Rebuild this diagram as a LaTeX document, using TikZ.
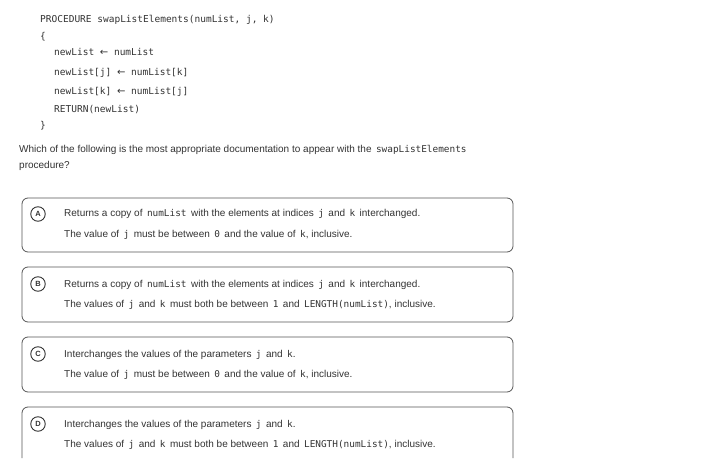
\documentclass[tikz,border=0pt]{standalone}
\usepackage{fontspec}
\setmainfont{Liberation Sans}
\newfontfamily\codefont{DejaVu Sans Mono}
\newfontfamily\arrowfont{DejaVu Sans}
\newcommand{\cd}[1]{\,{\codefont\fontsize{9.4}{11}\selectfont #1}\,}
\newcommand{\cdp}[1]{\,{\codefont\fontsize{9.4}{11}\selectfont #1}}
\newcommand{\la}{{\arrowfont\fontsize{10}{11}\selectfont ←}}
\definecolor{txt}{HTML}{333333}
\definecolor{boxline}{HTML}{555555}
\begin{document}
\begin{tikzpicture}[x=1pt,y=-1pt,
  code/.style={anchor=base west,inner sep=0pt,text=txt,font=\codefont\fontsize{9.5}{11}\selectfont},
  body/.style={anchor=base west,inner sep=0pt,text=txt,font=\fontsize{10}{12}\selectfont},
  optbox/.style={draw=boxline,line width=0.8pt,rounded corners=6pt},
  letter/.style={circle,draw=txt,line width=0.9pt,minimum size=14.5pt,inner sep=0pt,text=txt,font=\bfseries\fontsize{7.5}{8}\selectfont}]
\useasboundingbox (0,0) rectangle (719,470);
\fill[white] (0,0) rectangle (719,470);
% code
\node[code] (c1) at (40,23) {PROCEDURE swapListElements(numList, j, k)};
\node[code] (c2) at (40,40) {\{};
\node[code] (c3) at (54,56) {newList \la{} numList};
\node[code] (c4) at (54,76) {newList[j] \la{} numList[k]};
\node[code] (c5) at (54,95) {newList[k] \la{} numList[j]};
\node[code] (c6) at (54,113) {RETURN(newList)};
\node[code] (c7) at (40,129) {\}};
% question
\node[body] (q1) at (19,153) {Which of the following is the most appropriate documentation to appear with the \cd{swapListElements}};
\node[body] (q2) at (19,169) {procedure?};
% option A
\draw[optbox] (22,198) rectangle (513,252);
\node[letter] (la) at (38,214) {A};
\node[body] (a1) at (64,217) {Returns a copy of \cd{numList} with the elements at indices \cd{j} and \cd{k} interchanged.};
\node[body] (a2) at (64,237) {The value of \cd{j} must be between \cd{0} and the value of \cdp{k}, inclusive.};
% option B
\draw[optbox] (22,267) rectangle (513,322);
\node[letter] (lb) at (38,284) {B};
\node[body] (b1) at (64,287) {Returns a copy of \cd{numList} with the elements at indices \cd{j} and \cd{k} interchanged.};
\node[body] (b2) at (64,307) {The values of \cd{j} and \cd{k} must both be between \cd{1} and \cdp{LENGTH(numList)}, inclusive.};
% option C
\draw[optbox] (22,337) rectangle (513,392);
\node[letter] (lc) at (38,354) {C};
\node[body] (c1b) at (64,357) {Interchanges the values of the parameters \cd{j} and \cdp{k}.};
\node[body] (c2b) at (64,377) {The value of \cd{j} must be between \cd{0} and the value of \cdp{k}, inclusive.};
% option D
\draw[optbox] (22,458) -- (22,407) -- (513,407) -- (513,458);
\node[letter] (ld) at (38,424) {D};
\node[body] (d1) at (64,427) {Interchanges the values of the parameters \cd{j} and \cdp{k}.};
\node[body] (d2) at (64,447) {The values of \cd{j} and \cd{k} must both be between \cd{1} and \cdp{LENGTH(numList)}, inclusive.};
\end{tikzpicture}
\end{document}
